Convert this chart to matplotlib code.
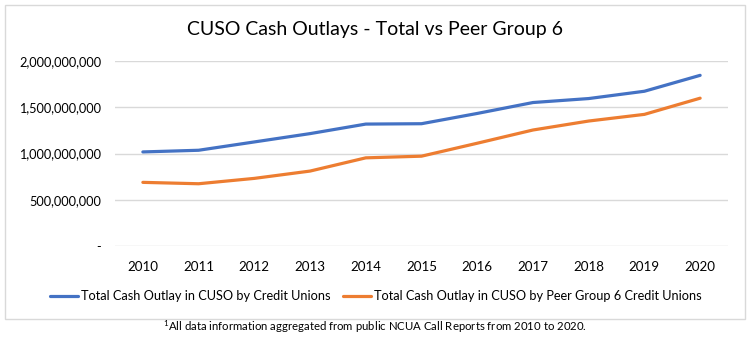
import matplotlib
matplotlib.use("Agg")
import matplotlib.pyplot as plt
from matplotlib.patches import Rectangle
from matplotlib.ticker import FuncFormatter

years = ["2010", "2011", "2012", "2013", "2014", "2015", "2016", "2017", "2018", "2019", "2020"]
total_cu = [1.017e9, 1.035e9, 1.125e9, 1.215e9, 1.318e9, 1.322e9, 1.433e9, 1.551e9, 1.594e9, 1.673e9, 1.845e9]
peer_group6 = [0.688e9, 0.673e9, 0.731e9, 0.810e9, 0.953e9, 0.971e9, 1.111e9, 1.254e9, 1.351e9, 1.423e9, 1.598e9]
series_names = ["Total Cash Outlay in CUSO by Credit Unions",
                "Total Cash Outlay in CUSO by Peer Group 6 Credit Unions"]
title = "CUSO Cash Outlays - Total vs Peer Group 6"
footnote = "All data information aggregated from public NCUA Call Reports from 2010 to 2020."

plt.rcParams['font.family'] = ['Lato', 'DejaVu Sans']

W, H = 750, 338
fig = plt.figure(figsize=(W / 100, H / 100), dpi=100)
fig.patch.set_facecolor("white")

# outer chart frame
fig.patches.append(Rectangle((5 / W, 1 - 319 / H), 740 / W, 314 / H, transform=fig.transFigure,
                             fill=False, edgecolor="#D9D9D9", linewidth=1.0))

ax = fig.add_axes([115 / W, 1 - 246 / H, 613 / W, 185 / H])
x = list(range(len(years)))
ax.plot(x, total_cu, color="#4472C4", linewidth=2.3, solid_capstyle="round", label=series_names[0])
ax.plot(x, peer_group6, color="#ED7D31", linewidth=2.3, solid_capstyle="round", label=series_names[1])

ax.set_xlim(-0.5, len(years) - 0.5)
ax.set_ylim(0, 2e9)
ax.set_yticks([0, 5e8, 1e9, 1.5e9, 2e9])
ax.yaxis.set_major_formatter(FuncFormatter(lambda v, p: "-" if v == 0 else f"{v:,.0f}"))
ax.set_xticks(x)
ax.set_xticklabels(years)
ax.grid(axis="y", color="#D9D9D9", linewidth=1.0)
ax.set_axisbelow(True)
for s in ax.spines.values():
    s.set_visible(False)
ax.tick_params(axis="both", length=0, colors="black")
ax.tick_params(axis="y", pad=10, labelsize=9.2)
ax.tick_params(axis="x", pad=11, labelsize=9.6)

fig.text(375 / W, 1 - 30 / H, title, ha="center", va="center", fontsize=14)

fig.legend(loc="center", bbox_to_anchor=(376 / W, 1 - 296 / H), ncol=2, frameon=False,
           fontsize=9.2, handlelength=2.2, handletextpad=0.2, columnspacing=1.0)

fig.text(375 / W, 1 - 327 / H, r"$^{\mathregular{1}}$" + footnote, ha="center", va="center", fontsize=8.2)

fig.savefig("out.png", dpi=100)
